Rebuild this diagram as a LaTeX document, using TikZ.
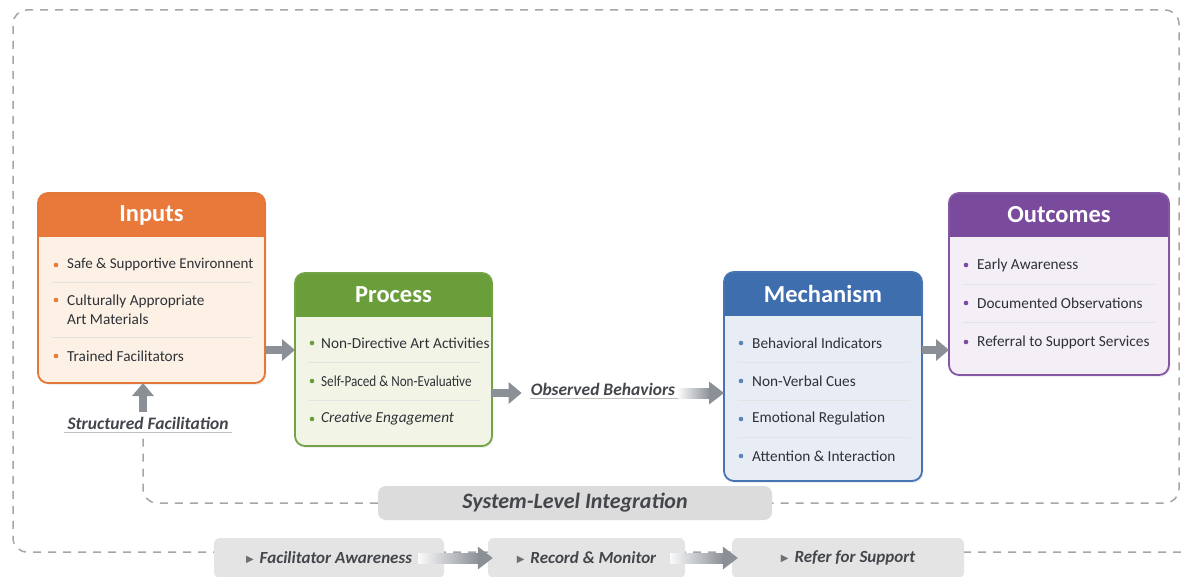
\documentclass[tikz,border=0pt]{standalone}
\usepackage{fontspec}
\setmainfont{Carlito}
\newfontfamily\symfont{DejaVu Sans}
\usetikzlibrary{arrows.meta,calc,shadows}
\pgfdeclarelayer{bg}
\pgfsetlayers{bg,main}

\definecolor{inhead}{HTML}{E8793B}
\definecolor{inline}{HTML}{E4773A}
\definecolor{inbody}{HTML}{FDF1E6}
\definecolor{prochead}{HTML}{6A9E3B}
\definecolor{procline}{HTML}{72A445}
\definecolor{procbody}{HTML}{F2F5E6}
\definecolor{mechhead}{HTML}{3E6EAE}
\definecolor{mechline}{HTML}{4774B2}
\definecolor{mechbody}{HTML}{E7ECF5}
\definecolor{outhead}{HTML}{7A4A9C}
\definecolor{outline}{HTML}{8357A4}
\definecolor{outbody}{HTML}{F4EEF7}
\definecolor{textdark}{HTML}{2E3237}
\definecolor{arrowgray}{HTML}{8B9097}
\definecolor{dashgray}{HTML}{A6A6A6}
\definecolor{sysfill}{HTML}{DCDCDC}
\definecolor{stepfill}{HTML}{E4E4E4}

% one coloured stage: name, left, top, right, bottom, palette, title
\newcommand{\stagebox}[7]{%
  \node[stageframe, fill=#6body, minimum width={#4-#2}, minimum height={#5-#3}]
    (#1) at ({(#2+#4)/2},{(#3+#5)/2}) {};
  \fill[#6head] ([yshift=-44pt]#1.north west) [rounded corners=10pt]
    -- (#1.north west) -- (#1.north east) [sharp corners]
    -- ([yshift=-44pt]#1.north east) -- cycle;
  \draw[#6line, line width=1.8pt, rounded corners=10pt]
    (#1.north west) rectangle (#1.south east);
  \node[stagetitle] (#1-title) at ($(#1.north)+(0,22)$) {#7};
}

% grey arrow fading in from the left
\newcommand{\fadearrow}[2]{%
  \shade[left color=arrowgray!5, right color=arrowgray]
    ($(#1)+(0,-5)$) rectangle ($(#2)+(-14,5)$);
  \fill[arrowgray] ($(#2)+(-15,-11.5)$) -- (#2) -- ($(#2)+(-15,11.5)$) -- cycle;
}

% small pointer in front of the action labels
\newcommand{\pointer}{\raisebox{1.5pt}{\symfont\fontsize{10}{10}\selectfont\upshape\color{textdark!70}▶}\hspace{6pt}}

\begin{document}
\begin{tikzpicture}[x=1pt, y=-1pt,
  stageframe/.style={rectangle, rounded corners=10pt, outer sep=0pt, inner sep=0pt,
    drop shadow={opacity=0.12, shadow xshift=1.5pt, shadow yshift=-2pt}},
  stagetitle/.style={text=white, font=\fontsize{24.5}{26}\selectfont\bfseries, inner sep=0pt},
  item/.style={text=textdark, font=\fontsize{15.3}{19}\selectfont, anchor=west,
    inner sep=0pt, align=left},
  sepline/.style={draw=black!11, line width=0.8pt},
  blockarrow/.style={draw=arrowgray, line width=8pt, -{Triangle[width=21pt,length=13pt]}},
  dashline/.style={draw=dashgray, line width=1.5pt, dash pattern=on 8pt off 7pt},
  flowlabel/.style={text=textdark!90, font=\fontsize{17.5}{20}\selectfont\bfseries\itshape,
    inner sep=3pt},
  uline/.style={draw=black!25, line width=1pt},
  sysbox/.style={fill=sysfill, rounded corners=8pt, minimum width=394pt,
    minimum height=34pt, text=textdark!90,
    font=\fontsize{22}{24}\selectfont\bfseries\itshape},
  stepbox/.style={fill=stepfill, rounded corners=6pt, minimum height=40pt,
    text=textdark!90, font=\fontsize{17}{19}\selectfont\bfseries\itshape}
]
\useasboundingbox (0,0) rectangle (1181,577);

% ---------- stages ----------
\stagebox{inputs}{38}{193}{265}{383}{in}{Inputs}
\foreach \y in {282,337} \draw[sepline] (52,\y) -- (252,\y);
\fill[inhead] (56,265) circle (2.3);
\node[item, font=\fontsize{15}{19}\selectfont] (in-1) at (67,265) {Safe \& Supportive Environnent};
\fill[inhead] (56,300) circle (2.3);
\node[item] (in-2) at (67,309.5) {Culturally Appropriate\\Art Materials};
\fill[inhead] (56,356) circle (2.3);
\node[item] (in-3) at (67,356) {Trained Facilitators};

\stagebox{process}{295}{273}{492}{446}{proc}{Process}
\foreach \y in {362,400} \draw[sepline] (308,\y) -- (480,\y);
\foreach \y/\t [count=\i] in {343/Non-Directive Art Activities,
    381/{\scalebox{0.86}[1]{Self-Paced \& Non-Evaluative}},
    419/{\itshape Creative Engagement}} {
  \fill[prochead] (312,\y) circle (2.3);
  \node[item] (proc-\i) at (321,\y) {\t};
}

\stagebox{mech}{724}{272}{922}{481}{mech}{Mechanism}
\foreach \y in {362,400,437} \draw[sepline] (738,\y) -- (910,\y);
\foreach \y/\t [count=\i] in {343/Behavioral Indicators, 381/Non-Verbal Cues,
    419/Emotional Regulation, 456/{Attention \& Interaction}} {
  \fill[mechhead!85] (741,\y) circle (2.3);
  \node[item] (mech-\i) at (752,\y) {\t};
}

\stagebox{outc}{949}{193}{1169}{375}{out}{Outcomes}
\foreach \y in {284,322} \draw[sepline] (963,\y) -- (1155,\y);
\foreach \y/\t [count=\i] in {265/Early Awareness, 303/Documented Observations,
    342/Referral to Support Services} {
  \fill[outhead] (966,\y) circle (2.3);
  \node[item] (outc-\i) at (977,\y) {\t};
}

% ---------- labels ----------
\node[flowlabel] (obs) at (603,389) {Observed Behaviors};
\draw[uline] ([xshift=2pt]obs.south west) -- (obs.south east);
\node[flowlabel] (sf) at (148,423) {Structured Facilitation};
\draw[uline] (sf.south west) -- (sf.south east);

\node[sysbox] (sys) at (575,503) {System-Level Integration};

\node[stepbox, minimum width=230pt] (fa) at (329,558) {\pointer Facilitator Awareness};
\node[stepbox, minimum width=197pt] (rm) at (586.5,558) {\pointer Record \& Monitor};
\node[stepbox, minimum width=232pt] (rs) at (848,558) {\pointer Refer for Support};

% ---------- connectors ----------
\coordinate (ip) at ($(inputs.east)+(0,62)$);
\draw[blockarrow] (ip) -- (process.west |- ip);
\draw[blockarrow, shorten >=6pt] ($(process.east |- obs)+(0,4)$) -- ($(obs.west)+(0,4)$);
\fadearrow{$(obs.east)+(0,4)$}{$(mech.west |- obs)+(0,4)$}
\coordinate (mo) at ($(mech.east)+(0,-26.5)$);
\draw[blockarrow] (mo) -- (outc.west |- mo);
\coordinate (sfup) at (143,412);
\draw[blockarrow] (sfup) -- (sfup |- inputs.south);

\coordinate (fa-out) at ($(fa.east)+(-26,0)$);
\coordinate (rm-in) at ($(rm.west)+(5,0)$);
\fadearrow{fa-out}{rm-in}
\coordinate (rm-out) at ($(rm.east)+(-15,0)$);
\coordinate (rs-in) at ($(rs.west)+(6,0)$);
\fadearrow{rm-out}{rs-in}

% ---------- dashed system boundary ----------
\begin{pgfonlayer}{bg}
  \fill[white] (0,0) rectangle (1181,577);
  \draw[dashline, rounded corners=14pt]
    (1181,552) -- (13,552) -- (13,10) -- (1179,10) -- (1179,503) -- (sys.east);
  \coordinate (sfdown) at (143,437);
  \draw[dashline, rounded corners=14pt]
    (sys.west) -- (sfdown |- sys.west) -- (sfdown);
\end{pgfonlayer}
\end{tikzpicture}
\end{document}
